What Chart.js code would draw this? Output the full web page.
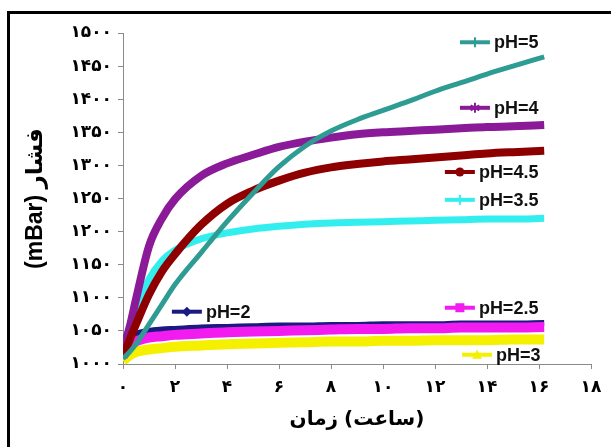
<!DOCTYPE html>
<html>
<head>
<meta charset="utf-8">
<script src="https://cdn.jsdelivr.net/npm/chart.js@4.4.1/dist/chart.umd.min.js"></script>
<style>
    html, body { margin: 0; padding: 0; background: #fff; }
    #chart-canvas { display: block; }
</style>
</head>
<body>
<canvas id="chart-canvas" width="611" height="447"></canvas>
<script>
// time of each reading, hours
const hours = [0, 0.25, 0.5, 1, 1.5, 2, 3, 4, 5, 6, 7, 8, 9, 10, 11, 12, 13, 14, 15, 16.2];

// pressure readings, mBar
const pH5   = [1008, 1018, 1030, 1060, 1090, 1120, 1168, 1215, 1258, 1298, 1329, 1352, 1369, 1383, 1397, 1412, 1425, 1438, 1450, 1464];
const pH4   = [1022, 1055, 1098, 1178, 1220, 1249, 1284, 1303, 1316, 1328, 1336, 1342, 1347, 1350, 1352, 1354, 1356, 1358, 1359, 1361];
const pH45  = [1012, 1036, 1060, 1105, 1140, 1166, 1210, 1242, 1262, 1277, 1289, 1297, 1302, 1306, 1309, 1312, 1315, 1318, 1320, 1322];
const pH35  = [1020, 1050, 1080, 1128, 1156, 1172, 1189, 1198, 1204, 1208, 1211, 1213, 1214, 1215, 1216, 1217, 1218, 1219, 1219, 1220];
const pH2   = [1015, 1035, 1045, 1050, 1052, 1053, 1055, 1056, 1057, 1058, 1058, 1059, 1059, 1060, 1060, 1060, 1061, 1061, 1061, 1062];
const pH25  = [1012, 1026, 1034, 1040, 1042, 1044, 1046, 1048, 1049, 1050, 1051, 1052, 1053, 1053, 1054, 1054, 1055, 1055, 1055, 1056];
const pH3   = [1005, 1013, 1018, 1022, 1024, 1026, 1028, 1030, 1031, 1032, 1033, 1034, 1034, 1035, 1035, 1036, 1036, 1036, 1037, 1037];

// tick labels in Persian digits
const xTickLabels = ['۰', '۲', '۴', '۶', '۸', '۱۰', '۱۲', '۱۴', '۱۶', '۱۸'];
const yTickLabels = ['۱۰۰۰', '۱۰۵۰', '۱۱۰۰', '۱۱۵۰', '۱۲۰۰', '۱۲۵۰', '۱۳۰۰', '۱۳۵۰', '۱۴۰۰', '۱۴۵۰', '۱۵۰۰'];

// x axis title, written as two words placed left to right
const xTitleWords = ['زمان', '(ساعت)'];

function toPoints(values) {
    return values.map((v, i) => ({ x: hours[i], y: v }));
}

// series in drawing order: the first one ends up on top
const series = [
    { label: 'pH=5',   values: pH5,  color: '#2f9c93', width: 5,  marker: 'plus' },
    { label: 'pH=4.5', values: pH45, color: '#8e0000', width: 8,  marker: 'circle' },
    { label: 'pH=4',   values: pH4,  color: '#8a1a98', width: 8,  marker: 'star' },
    { label: 'pH=3.5', values: pH35, color: '#33eeee', width: 7,  marker: 'plus' },
    { label: 'pH=2.5', values: pH25, color: '#f21cf0', width: 10, marker: 'square' },
    { label: 'pH=3',   values: pH3,  color: '#f5f000', width: 10, marker: 'triangle' },
    { label: 'pH=2',   values: pH2,  color: '#1a1a80', width: 6,  marker: 'diamond' }
];

// where each inline legend entry sits, in axis units (start of its sample line)
const legendSpots = {
    'pH=5':   { x: 12.96, y: 1486 },
    'pH=4':   { x: 12.96, y: 1387 },
    'pH=4.5': { x: 12.38, y: 1290 },
    'pH=3.5': { x: 12.38, y: 1248 },
    'pH=2':   { x: 1.88,  y: 1079 },
    'pH=2.5': { x: 12.38, y: 1085 },
    'pH=3':   { x: 13.04, y: 1014 }
};

function drawMarker(ctx, type, x, y, color) {
    ctx.save();
    ctx.fillStyle = color;
    ctx.strokeStyle = color;
    ctx.lineWidth = 2;
    ctx.beginPath();
    if (type === 'circle') {
        ctx.arc(x, y, 4.5, 0, Math.PI * 2);
        ctx.fill();
    } else if (type === 'square') {
        ctx.fillRect(x - 4.5, y - 4.5, 9, 9);
    } else if (type === 'diamond') {
        ctx.moveTo(x, y - 5);
        ctx.lineTo(x + 5, y);
        ctx.lineTo(x, y + 5);
        ctx.lineTo(x - 5, y);
        ctx.closePath();
        ctx.fill();
    } else if (type === 'triangle') {
        ctx.moveTo(x, y - 5);
        ctx.lineTo(x + 5, y + 4);
        ctx.lineTo(x - 5, y + 4);
        ctx.closePath();
        ctx.fill();
    } else if (type === 'star') {
        for (let a = 0; a < 3; a++) {
            const ang = a * Math.PI / 3 + Math.PI / 2;
            ctx.moveTo(x + Math.cos(ang) * 5, y + Math.sin(ang) * 5);
            ctx.lineTo(x - Math.cos(ang) * 5, y - Math.sin(ang) * 5);
        }
        ctx.stroke();
    } else {
        ctx.moveTo(x, y - 5);
        ctx.lineTo(x, y + 5);
        ctx.stroke();
    }
    ctx.restore();
}

// labels written next to the curves instead of a boxed legend
const inlineLegend = {
    id: 'inlineLegend',
    afterDatasetsDraw(chart) {
        const ctx = chart.ctx;
        const xs = chart.scales.x;
        const ys = chart.scales.y;
        series.forEach(s => {
            const spot = legendSpots[s.label];
            const x = xs.getPixelForValue(spot.x);
            const y = ys.getPixelForValue(spot.y);
            ctx.save();
            ctx.strokeStyle = s.color;
            ctx.lineWidth = 4;
            ctx.beginPath();
            ctx.moveTo(x, y);
            ctx.lineTo(x + 30, y);
            ctx.stroke();
            drawMarker(ctx, s.marker, x + 15, y, s.color);
            ctx.fillStyle = '#111';
            ctx.font = 'bold 18px "Liberation Sans", Arial, sans-serif';
            ctx.textAlign = 'left';
            ctx.textBaseline = 'middle';
            ctx.fillText(s.label, x + 34, y + 1);
            ctx.restore();
        });
    }
};

// x axis title: each word drawn on its own so the order stays left to right
const xTitle = {
    id: 'xTitle',
    afterDraw(chart) {
        const ctx = chart.ctx;
        const area = chart.chartArea;
        ctx.save();
        ctx.fillStyle = '#000';
        ctx.font = 'bold 20px "DejaVu Sans", sans-serif';
        ctx.textAlign = 'left';
        ctx.textBaseline = 'middle';
        const gap = 6;
        const widths = xTitleWords.map(w => ctx.measureText(w).width);
        const total = widths.reduce((a, b) => a + b, 0) + gap * (widths.length - 1);
        let x = (area.left + area.right) / 2 - total / 2;
        const y = area.bottom + 56;
        xTitleWords.forEach((w, i) => {
            ctx.fillText(w, x, y);
            x += widths[i] + gap;
        });
        ctx.restore();
    }
};

// the black frame along the top and left edge
const frame = {
    id: 'frame',
    afterDraw(chart) {
        const ctx = chart.ctx;
        ctx.save();
        ctx.fillStyle = '#000';
        ctx.fillRect(7, 11, chart.width - 7, 3);
        ctx.fillRect(7, 11, 3, chart.height - 11);
        ctx.restore();
    }
};

document.addEventListener("DOMContentLoaded", function() {
    const chartCanvas = document.getElementById("chart-canvas");

    const chart = new Chart(chartCanvas, {
        type: 'line',
        data: {
            datasets: series.map(s => ({
                label: s.label,
                data: toPoints(s.values),
                borderColor: s.color,
                backgroundColor: s.color,
                borderWidth: s.width,
                pointRadius: 0,
                tension: 0.4,
                cubicInterpolationMode: 'monotone',
                fill: false
            }))
        },
        options: {
            responsive: false,
            animation: false,
            layout: { padding: { left: 10, top: 33, right: 20, bottom: 0 } },
            plugins: {
                legend: { display: false },
                tooltip: { enabled: false }
            },
            scales: {
                x: {
                    type: 'linear',
                    min: 0,
                    max: 18,
                    afterFit(scale) { scale.height = 83; },
                    grid: { drawOnChartArea: false, tickLength: 5, color: '#8a8a8a' },
                    border: { color: '#8a8a8a', width: 1 },
                    ticks: {
                        stepSize: 2,
                        padding: 8,
                        color: '#000',
                        font: { family: '"DejaVu Sans", sans-serif', size: 17, weight: 'bold' },
                        callback: (value, index) => xTickLabels[index]
                    }
                },
                y: {
                    min: 1000,
                    max: 1500,
                    afterFit(scale) { scale.width = 113; },
                    grid: { drawOnChartArea: false, tickLength: 5, color: '#8a8a8a' },
                    border: { color: '#8a8a8a', width: 1 },
                    ticks: {
                        stepSize: 50,
                        padding: 6,
                        color: '#000',
                        font: { family: '"DejaVu Sans", sans-serif', size: 17, weight: 'bold' },
                        callback: (value, index) => yTickLabels[index]
                    },
                    title: {
                        display: true,
                        text: '(mBar) فشار',
                        color: '#000',
                        font: { family: '"Liberation Sans", "DejaVu Sans", sans-serif', size: 23, weight: 'bold' },
                        padding: { top: 12, bottom: 0 }
                    }
                }
            }
        },
        plugins: [inlineLegend, xTitle, frame]
    });
});
</script>
</body>
</html>
